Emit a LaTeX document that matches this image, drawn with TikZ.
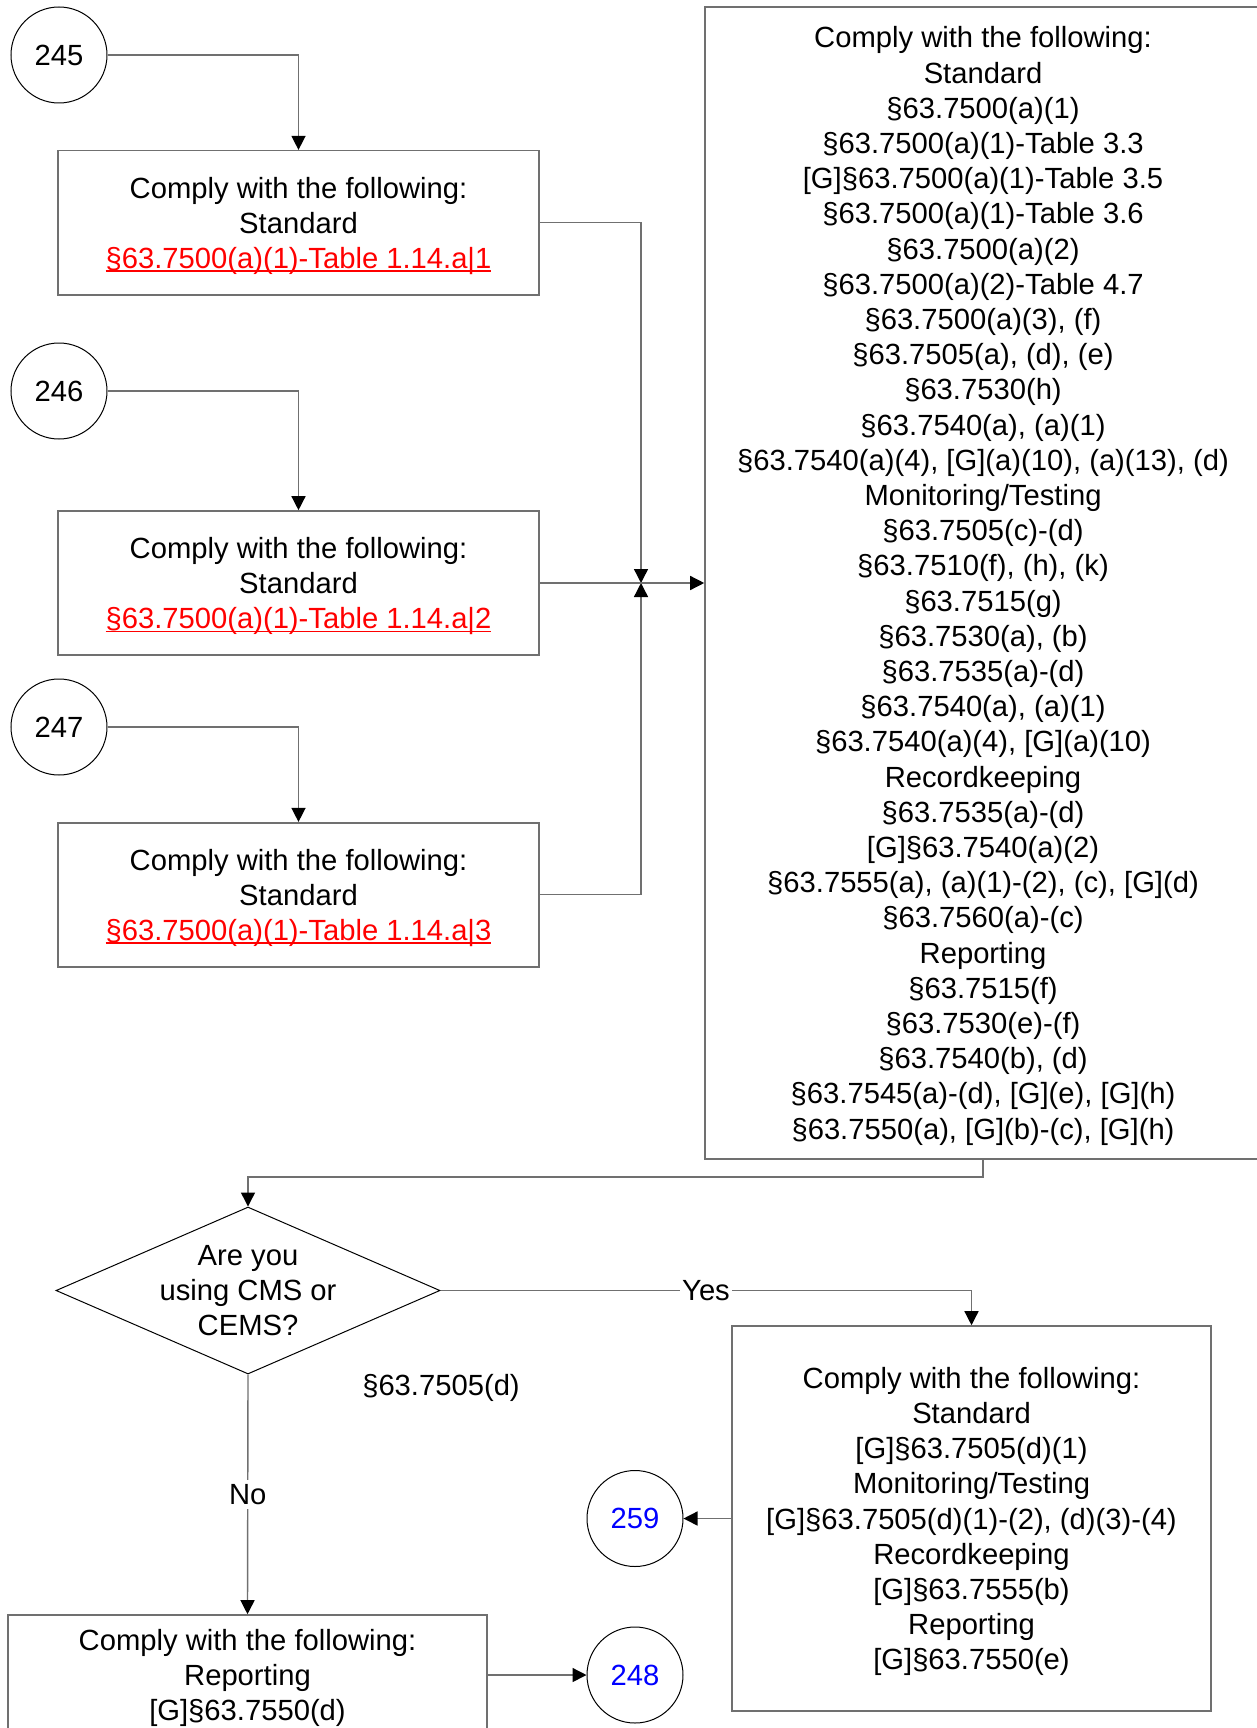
\documentclass[tikz,border=0pt]{standalone}
\usepackage{fontspec}
\setmainfont{Liberation Sans}
\usetikzlibrary{arrows.meta,shapes.geometric}
\definecolor{lnc}{HTML}{707070}
\newsavebox{\myulbox}
\newcommand{\myul}[1]{\sbox{\myulbox}{#1}\rlap{\rule[-1.6pt]{\wd\myulbox}{0.7pt}}\usebox{\myulbox}}
\newcommand{\tstrut}{\rule{0pt}{13.6pt}}
\begin{document}
\begin{tikzpicture}[x=0.5pt,y=-0.5pt,
  txt/.style={font=\fontsize{14.6pt}{17.6pt}\selectfont, align=center},
  box/.style={txt, draw=lnc, line width=0.8pt, inner sep=0pt, rectangle},
  circ/.style={txt, draw=black, line width=0.5pt, circle, minimum size=48pt, inner sep=0pt},
  conn/.style={draw=lnc, line width=0.7pt, -{Triangle[length=7pt,width=7pt,color=black]}}
]
\useasboundingbox (0,0) rectangle (1257,1728);

% left circles and boxes
\node[circ] (c245) at (59,55) {245};
\node[circ] (c246) at (59,391) {246};
\node[circ] (c247) at (59,727) {247};

\node[box, minimum width=240.5pt, minimum height=72pt] (b1) at (298.5,222.7)
  {\tstrut Comply with the following:\\Standard\\\textcolor{red}{\myul{§63.7500(a)(1)-Table 1.14.a|1}}};
\node[box, minimum width=240.5pt, minimum height=72pt] (b2) at (298.5,583)
  {\tstrut Comply with the following:\\Standard\\\textcolor{red}{\myul{§63.7500(a)(1)-Table 1.14.a|2}}};
\node[box, minimum width=240.5pt, minimum height=72pt] (b3) at (298.5,894.7)
  {\tstrut Comply with the following:\\Standard\\\textcolor{red}{\myul{§63.7500(a)(1)-Table 1.14.a|3}}};

% big box
\node[box, minimum width=278pt, minimum height=576pt] (big) at (983,583)
  {\tstrut Comply with the following:\\Standard\\§63.7500(a)(1)\\§63.7500(a)(1)-Table 3.3\\{[}G]§63.7500(a)(1)-Table 3.5\\§63.7500(a)(1)-Table 3.6\\§63.7500(a)(2)\\§63.7500(a)(2)-Table 4.7\\§63.7500(a)(3), (f)\\§63.7505(a), (d), (e)\\§63.7530(h)\\§63.7540(a), (a)(1)\\§63.7540(a)(4), [G](a)(10), (a)(13), (d)\\Monitoring/Testing\\§63.7505(c)-(d)\\§63.7510(f), (h), (k)\\§63.7515(g)\\§63.7530(a), (b)\\§63.7535(a)-(d)\\§63.7540(a), (a)(1)\\§63.7540(a)(4), [G](a)(10)\\Recordkeeping\\§63.7535(a)-(d)\\{[}G]§63.7540(a)(2)\\§63.7555(a), (a)(1)-(2), (c), [G](d)\\§63.7560(a)-(c)\\Reporting\\§63.7515(f)\\§63.7530(e)-(f)\\§63.7540(b), (d)\\§63.7545(a)-(d), [G](e), [G](h)\\§63.7550(a), [G](b)-(c), [G](h)};

% decision
\node[diamond, draw=black, line width=0.5pt, minimum width=192pt, minimum height=83.5pt, inner sep=0pt] (dia) at (248,1290.5) {};
\node[txt] (dtext) at (dia.center) {Are you\\using CMS or\\CEMS?};
\node[txt] (ref) at (441,1388) {§63.7505(d)};

% yes box
\node[box, minimum width=239.5pt, minimum height=192.5pt] (yb) at (971.5,1518.5)
  {\tstrut Comply with the following:\\Standard\\{[}G]§63.7505(d)(1)\\Monitoring/Testing\\{[}G]§63.7505(d)(1)-(2), (d)(3)-(4)\\Recordkeeping\\{[}G]§63.7555(b)\\Reporting\\{[}G]§63.7550(e)};
\node[circ, text=blue] (c259) at (635,1518.5) {259};

% no box
\node[box, minimum width=239.5pt, minimum height=60pt] (b4) at (247.5,1675)
  {\tstrut Comply with the following:\\Reporting\\{[}G]§63.7550(d)};
\node[circ, text=blue] (c248) at (635,1675) {248};

% connectors
\coordinate (jn) at (641,583);
\draw[conn] (c245.east) -| (b1.north);
\draw[conn] (c246.east) -| (b2.north);
\draw[conn] (c247.east) -| (b3.north);
\draw[conn] (b1.east) -| (jn);
\draw[conn] (b3.east) -| (jn);
\draw[conn] (b2.east) -- (big.west);
\draw[conn] (big.south) -- ++(0,17) -| (dia.north);
\draw[conn] (dia.east) -| node[pos=0.25, txt, fill=white, inner sep=1pt] (yes) {Yes} (yb.north);
\draw[conn] (dia.south) -- node[txt, fill=white, inner sep=2pt] (no) {No} (b4.north);
\draw[conn] (yb.west) -- (c259.east);
\draw[conn] (b4.east) -- (c248.west);
\end{tikzpicture}
\end{document}
